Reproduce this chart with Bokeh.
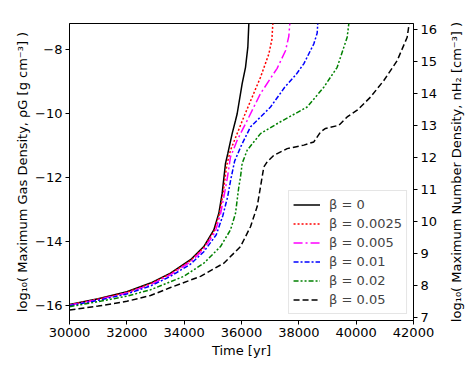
from bokeh.plotting import figure
from bokeh.layouts import row
from bokeh.models import Range1d, LinearAxis, FixedTicker, Legend, LegendItem
from bokeh.embed import file_html
from bokeh.resources import INLINE

# ---- data ----
t_b0 = [30000, 31000, 32000, 32826, 33523, 34221, 34686, 35034, 35209, 35325, 35442, 35523, 35674, 35791, 35849, 36023, 36140, 36221, 36256]
r_b0 = [-15.98, -15.80, -15.58, -15.31, -15.00, -14.58, -14.17, -13.65, -13.13, -12.51, -11.57, -11.26, -10.64, -10.23, -10.02, -9.08, -8.57, -7.94, -7.20]

t_b1 = [30000, 31000, 32000, 32826, 33523, 34221, 34686, 35050, 35230, 35360, 35460, 35500, 35616, 35849, 36081, 36372, 36663, 36954, 37060, 37093]
r_b1 = [-15.99, -15.81, -15.60, -15.33, -15.02, -14.61, -14.20, -13.68, -13.15, -12.50, -11.80, -11.57, -11.16, -10.64, -10.12, -9.50, -8.88, -8.15, -7.70, -7.20]

t_b2 = [30000, 31000, 32000, 32826, 33523, 34221, 34686, 35080, 35270, 35410, 35510, 35616, 35849, 36198, 36663, 37244, 37535, 37650, 37686]
r_b2 = [-16.00, -15.83, -15.62, -15.36, -15.05, -14.65, -14.25, -13.72, -13.15, -12.50, -12.00, -11.37, -10.85, -10.23, -9.39, -8.60, -8.05, -7.60, -7.20]

t_b3 = [30000, 31000, 32000, 32826, 33523, 34221, 34686, 35120, 35350, 35520, 35620, 35760, 36000, 36314, 37012, 37500, 37900, 38172, 38521, 38640, 38660]
r_b3 = [-16.02, -15.85, -15.65, -15.40, -15.10, -14.72, -14.33, -13.80, -13.20, -12.60, -12.10, -11.50, -11.00, -10.43, -9.81, -9.20, -8.80, -8.46, -7.84, -7.50, -7.20]

t_b4 = [30000, 31000, 32000, 32826, 33988, 34686, 35267, 35616, 35791, 35907, 35965, 36023, 36198, 36663, 37300, 38290, 38872, 39337, 39686, 39744]
r_b4 = [-16.05, -15.89, -15.72, -15.52, -15.10, -14.69, -14.17, -13.65, -13.13, -12.30, -12.00, -11.57, -11.16, -10.64, -10.30, -9.81, -9.19, -8.57, -7.63, -7.20]

t_b5 = [30000, 31000, 32000, 32826, 33523, 34570, 35384, 35965, 36314, 36547, 36663, 36779, 36896, 37128, 37593, 38174, 38523, 38756, 38930, 39395, 39686, 40035, 40500, 40965, 41430, 41779, 41850]
r_b5 = [-16.15, -16.03, -15.88, -15.70, -15.45, -15.10, -14.69, -14.17, -13.55, -12.92, -12.30, -11.68, -11.52, -11.32, -11.11, -11.00, -10.90, -10.59, -10.48, -10.38, -10.12, -9.91, -9.50, -8.98, -8.36, -7.63, -7.20]

labels = ["β = 0", "β = 0.0025", "β = 0.005", "β = 0.01", "β = 0.02", "β = 0.05"]
colors = ["black", "red", "magenta", "blue", "green", "black"]
dashes = ["solid", "2 2", "9 3 2 3", "5 2 2 2", "5 2 2 2 2 2", "6 3"]
series_t = [t_b0, t_b1, t_b2, t_b3, t_b4, t_b5]
series_r = [r_b0, r_b1, r_b2, r_b3, r_b4, r_b5]

x_ticks = [30000, 32000, 34000, 36000, 38000, 40000, 42000]
y_ticks = [-16, -14, -12, -10, -8]
n_ticks = [7, 8, 9, 10, 11, 12, 13, 14, 15, 16]
offset = 23.40   # log10 n_H2 = log10 rho + offset

x_title = "Time [yr]"
y_title = "log₁₀( Maximum Gas Density, ρG [g cm⁻³] )"
y2_title = "log₁₀( Maximum Number Density, nH₂ [cm⁻³] )"

ymin, ymax = -16.48, -7.20

FONT = "DejaVu Sans"
FS = "13px"
FW, FH = 344, 297
TOP, BOTTOM, LEFT, RIGHT = 23, 51, 69, 31

p = figure(frame_width=FW, frame_height=FH, output_backend="svg", toolbar_location=None,
           x_range=Range1d(30000, 42000), y_range=Range1d(ymin, ymax),
           min_border_left=LEFT, min_border_right=RIGHT, min_border_top=TOP, min_border_bottom=BOTTOM)
p.extra_y_ranges = {"n": Range1d(ymin + offset, ymax + offset)}

p.xgrid.visible = False
p.ygrid.visible = False
p.outline_line_color = "black"
p.outline_line_width = 1
p.background_fill_color = "white"
p.border_fill_color = "white"

items = []
for t, r, c, d, lab in zip(series_t, series_r, colors, dashes, labels):
    rr = p.line(t, r, line_color=c, line_width=1.5, line_dash=d)
    items.append(LegendItem(label=lab, renderers=[rr]))

def style_axis(ax):
    ax.axis_line_color = "black"
    ax.major_tick_line_color = "black"
    ax.major_tick_out = 4
    ax.major_tick_in = 0
    ax.minor_tick_out = 0
    ax.minor_tick_in = 0
    ax.major_label_standoff = 3
    ax.major_label_text_font = FONT
    ax.major_label_text_font_size = FS
    ax.major_label_text_color = "black"
    ax.axis_label_text_font = FONT
    ax.axis_label_text_font_size = FS
    ax.axis_label_text_font_style = "normal"
    ax.axis_label_text_color = "black"

p.xaxis.ticker = FixedTicker(ticks=x_ticks)
p.yaxis.ticker = FixedTicker(ticks=y_ticks)
p.xaxis.major_label_overrides = {v: str(v) for v in x_ticks}
p.yaxis.major_label_overrides = {v: "−" + str(abs(v)) for v in y_ticks}
style_axis(p.xaxis[0])
style_axis(p.yaxis[0])
p.xaxis.axis_label = x_title
p.xaxis.axis_label_standoff = 3
p.yaxis.axis_label = y_title
p.yaxis.axis_label_standoff = 2

# right axis with ticks
rax = LinearAxis(y_range_name="n", ticker=FixedTicker(ticks=n_ticks))
style_axis(rax)
p.add_layout(rax, "right")

leg = Legend(items=items, location="bottom_right")
leg.label_text_font = FONT
leg.label_text_font_size = FS
leg.label_height = 19
leg.glyph_height = 19
leg.glyph_width = 27
leg.label_standoff = 9
leg.spacing = 0
leg.padding = 4
leg.margin = 6
leg.border_line_color = "#cccccc"
leg.border_line_width = 1
leg.background_fill_alpha = 0.8
p.add_layout(leg)

# narrow companion figure carrying the right-hand title (reads bottom-to-top)
W1 = LEFT + FW + RIGHT
W2 = 472 - W1
p2 = figure(width=W2, frame_height=FH, output_backend="svg", toolbar_location=None,
            x_range=Range1d(0, 1), y_range=Range1d(ymin + offset, ymax + offset),
            min_border_left=W2 - 6, min_border_right=0, min_border_top=TOP, min_border_bottom=BOTTOM)
p2.xgrid.visible = False
p2.ygrid.visible = False
p2.xaxis.visible = False
p2.outline_line_color = None
p2.background_fill_color = "white"
p2.border_fill_color = "white"
ax2 = p2.yaxis[0]
ax2.ticker = FixedTicker(ticks=[])
style_axis(ax2)
ax2.axis_line_color = None
ax2.major_tick_line_color = None
ax2.major_tick_out = 0
ax2.major_label_standoff = 0
ax2.axis_label = y2_title
ax2.axis_label_standoff = 3

layout = row(p, p2)
open("out.html", "w").write(file_html(layout, INLINE))
